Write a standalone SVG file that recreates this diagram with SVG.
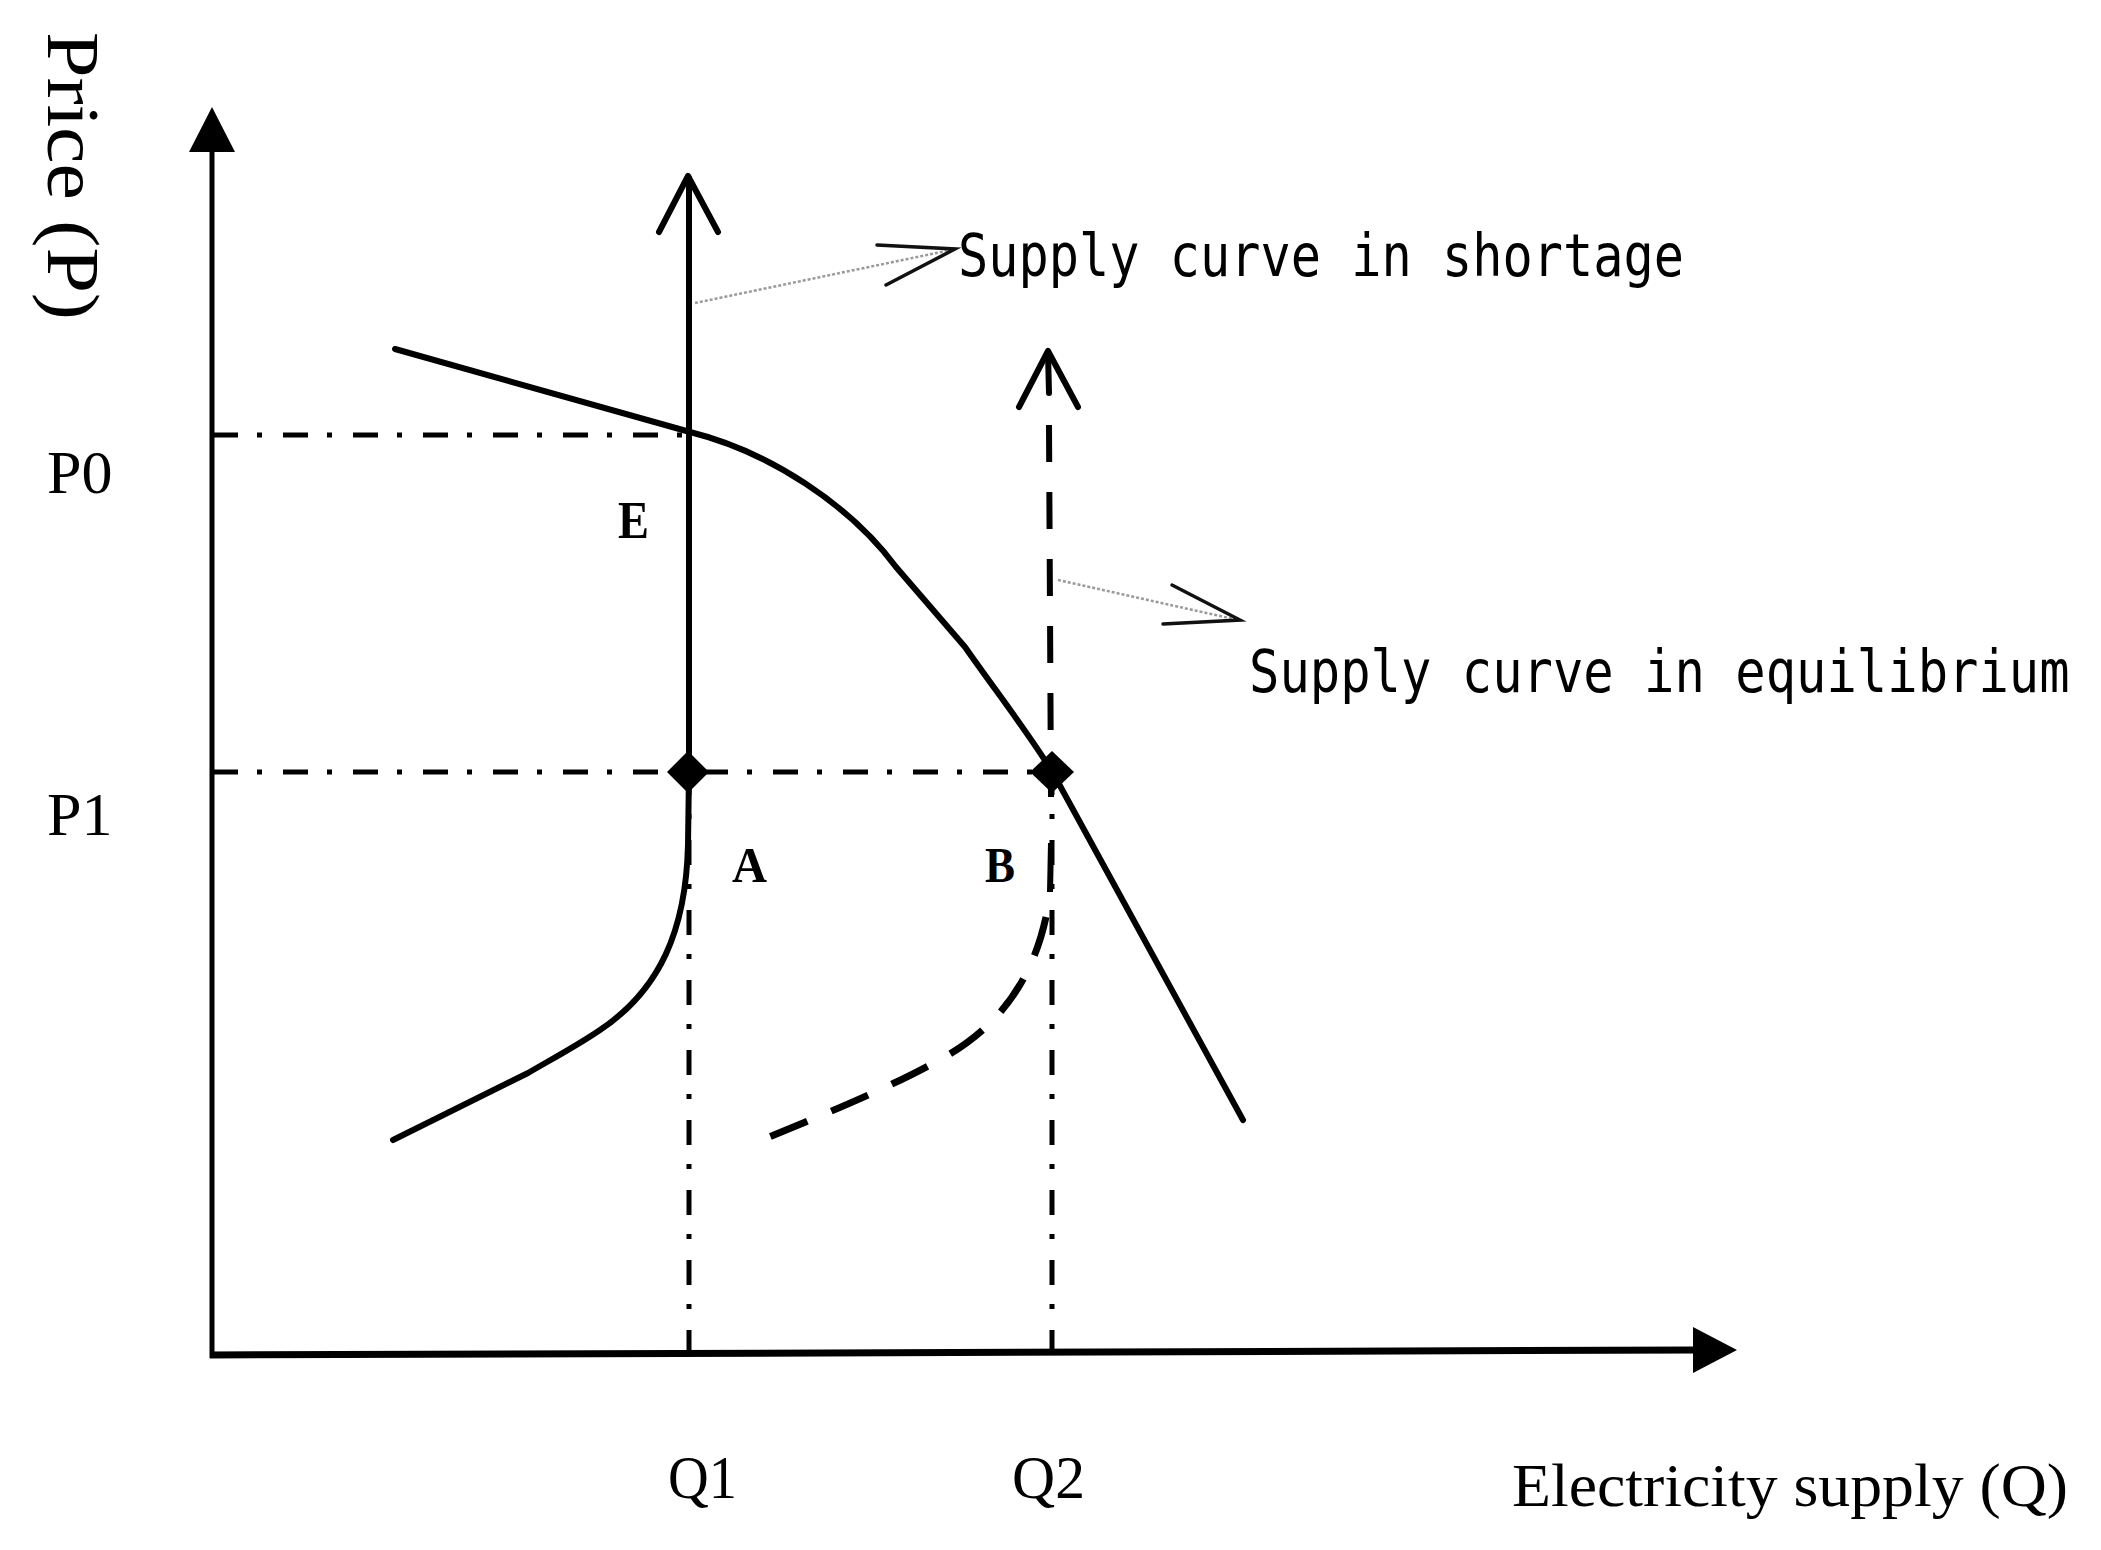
<svg xmlns="http://www.w3.org/2000/svg" width="2101" height="1550" viewBox="0 0 2101 1550">
<style>
.serif{font-family:"Liberation Serif","Times New Roman",serif;fill:#000}
.mono{font-family:"DejaVu Sans Mono","Liberation Mono",monospace;fill:#000;font-size:50px}
.ax{stroke:#000;fill:none}
.dd{stroke:#000;stroke-width:5;fill:none;stroke-dasharray:25 19 5 21}
.solid{stroke:#000;stroke-width:6;fill:none;stroke-linecap:round;stroke-linejoin:round}
.dash{stroke:#000;stroke-width:6;fill:none;stroke-dasharray:37 30}
.leader{stroke:#9a9a9a;stroke-width:2.5;fill:none;stroke-dasharray:3 2}
.wing{stroke:#111;stroke-width:3.5;fill:none;stroke-linecap:round;stroke-linejoin:miter}
.head{stroke:#000;stroke-width:6;fill:none;stroke-linecap:round;stroke-linejoin:round}
</style>
<rect width="2101" height="1550" fill="#fff"/>

<g id="axes">
  <line class="ax" x1="212" y1="1358" x2="212" y2="148" stroke-width="5"/>
  <polygon points="189,152 212,107 235,152" fill="#000"/>
  <line class="ax" x1="210" y1="1355" x2="1696" y2="1350" stroke-width="7"/>
  <polygon points="1693,1327 1737,1350 1693,1373" fill="#000"/>
</g>

<g id="guides">
  <line class="dd" x1="213" y1="435" x2="688" y2="435"/>
  <line class="dd" x1="213" y1="772" x2="1052" y2="772"/>
  <line class="dd" x1="689" y1="770" x2="689" y2="1356"/>
  <line class="dd" x1="1052" y1="770" x2="1052" y2="1356"/>
</g>

<g id="demand-curve">
  <path class="solid" stroke-width="7" d="M395,349 L690,432 C770,452 850,505 896,567 L965,647 C995,690 1030,735 1053,773 L1243,1120"/>
</g>

<g id="shortage-supply">
  <path class="solid" d="M689,178 L689,772 L688,845 C686,930 660,990 600,1030 C575,1047 550,1060 528,1073 L393,1140"/>
  <polyline class="head" points="659,232 688,176 718,232"/>
</g>

<g id="equilibrium-supply">
  <polyline class="head" points="1019,407 1048,351 1078,407"/>
  <line class="solid" x1="1048" y1="353" x2="1049" y2="393"/>
  <line class="dash" x1="1049" y1="425" x2="1051" y2="797"/>
  <line stroke="#000" stroke-width="6" x1="1051" y1="843" x2="1050" y2="892"/>
  <path stroke="#000" stroke-width="7" fill="none" stroke-dasharray="40 26" d="M1046,917 C1030,990 990,1035 930,1065 C880,1092 810,1120 755,1143"/>
</g>

<g id="points">
  <polygon points="688,751 709,772 688,793 667,772" fill="#000"/>
  <polygon points="1052,751 1074,772 1052,793 1030,772" fill="#000"/>
</g>

<g id="connectors">
  <line class="leader" x1="695" y1="303" x2="951" y2="250"/>
  <polyline class="wing" points="877,245 955,249 886,285"/>
  <line class="leader" x1="1058" y1="580" x2="1238" y2="620"/>
  <polyline class="wing" points="1172,585 1240,620 1163,624"/>
</g>

<g id="labels">
  <text class="serif" font-size="74" transform="translate(48,32) rotate(90)" textLength="288" lengthAdjust="spacingAndGlyphs">Price (P)</text>
  <text class="serif" font-size="62" x="47" y="493">P0</text>
  <text class="serif" font-size="62" x="47" y="835">P1</text>
  <text class="serif" font-size="62" x="668" y="1498" textLength="69" lengthAdjust="spacingAndGlyphs">Q1</text>
  <text class="serif" font-size="62" x="1012" y="1498" textLength="73" lengthAdjust="spacingAndGlyphs">Q2</text>
  <text class="serif" font-size="62" x="1512" y="1506" textLength="556" lengthAdjust="spacingAndGlyphs">Electricity supply (Q)</text>
  <text class="serif" font-size="52" font-weight="bold" x="618" y="538" textLength="31" lengthAdjust="spacingAndGlyphs">E</text>
  <text class="serif" font-size="50" font-weight="bold" x="732" y="882" textLength="35" lengthAdjust="spacingAndGlyphs">A</text>
  <text class="serif" font-size="50" font-weight="bold" x="985" y="882" textLength="30" lengthAdjust="spacingAndGlyphs">B</text>
  <text class="mono" transform="translate(958,276) scale(1.005,1.16)">Supply curve in shortage</text>
  <text class="mono" transform="translate(1249,692) scale(1.01,1.16)">Supply curve in equilibrium</text>
</g>
</svg>
